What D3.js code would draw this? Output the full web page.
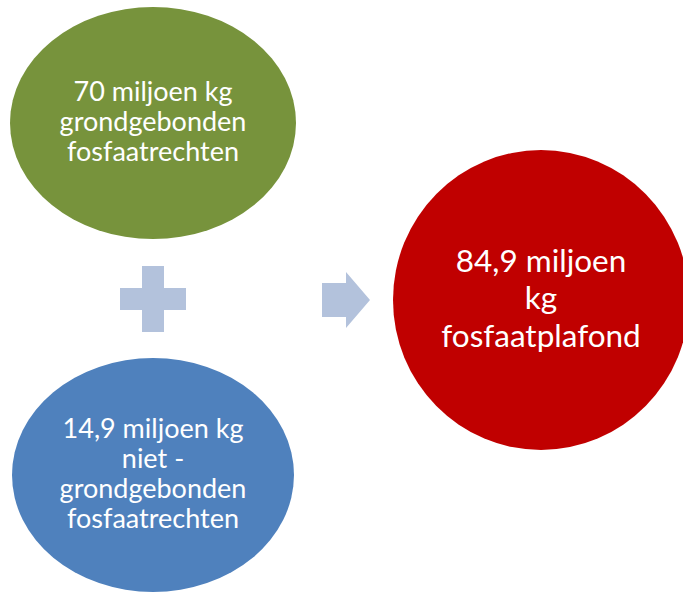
<!DOCTYPE html>
<meta charset="utf-8">
<head>
<style>
  body { margin: 0; background: #fff; }
  text { font-family: Lato, "Noto Sans", sans-serif; fill: #fff; }
</style>
</head>
<body>
<div id="my_dataviz"></div>
<script src="https://d3js.org/d3.v7.min.js"></script>
<script>
// the diagram content
const inputLines = [
  ["70 miljoen kg", "grondgebonden", "fosfaatrechten"],
  ["14,9 miljoen kg", "niet -", "grondgebonden", "fosfaatrechten"]
];
const resultLines = ["84,9 miljoen", "kg", "fosfaatplafond"];
const values = [70, 14.9, 84.9];

const width = 683, height = 592;

const svg = d3.select("#my_dataviz")
  .append("svg")
    .attr("width", width)
    .attr("height", height);

// two rows on the left, one big circle on the right
const rowY = d3.scalePoint().domain([0, 1]).range([123, 475]);
const colX = d3.scaleOrdinal().domain(["in", "op", "out"]).range([153, 346, 541]);
const inColor = d3.scaleOrdinal().domain([0, 1]).range(["#77933c", "#4f81bd"]);

// input ellipses
const nodes = svg.selectAll("g.node")
  .data(inputLines)
  .join("g")
    .attr("class", "node")
    .attr("transform", (d, i) => `translate(${colX("in")}, ${rowY(i)})`);

nodes.append("ellipse")
  .attr("rx", (d, i) => i == 0 ? 143 : 141)
  .attr("ry", (d, i) => i == 0 ? 116 : 117)
  .style("fill", (d, i) => inColor(i));

const lh = 30;
nodes.each(function(lines) {
  const g = d3.select(this);
  g.selectAll("text")
    .data(lines)
    .join("text")
      .attr("text-anchor", "middle")
      .attr("y", (d, j) => (j - (lines.length - 1) / 2) * lh + 8)
      .style("font-size", "27px")
      .text(d => d);
});

// plus sign between the two inputs
svg.append("path")
  .attr("transform", `translate(${colX("in")}, 299)`)
  .attr("d", "M-11,-33H11V-11H33V11H11V33H-11V11H-33V-11H-11Z")
  .style("fill", "#b3c2dc");

// arrow pointing to the result
svg.append("path")
  .attr("transform", `translate(${colX("op")}, 300)`)
  .attr("d", "M-24,-17H0V-28L24,0L0,28V17H-24Z")
  .style("fill", "#b3c2dc");

// result circle
const res = svg.append("g")
  .attr("transform", `translate(${colX("out")}, 300)`);
res.append("ellipse")
  .attr("rx", 148)
  .attr("ry", 150)
  .style("fill", "#c00000");
res.selectAll("text")
  .data(resultLines)
  .join("text")
    .attr("text-anchor", "middle")
    .attr("y", (d, j) => (j - 1) * 37.5 + 9)
    .style("font-size", "31.5px")
    .text(d => d);
</script>
</body>
